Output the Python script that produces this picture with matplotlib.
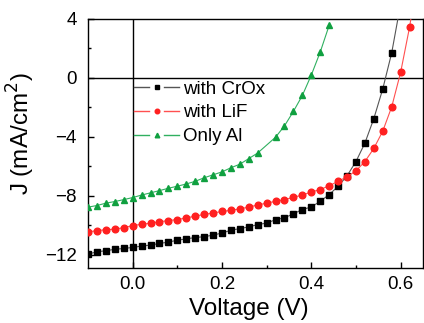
import numpy as np
import matplotlib
matplotlib.use("Agg")
import matplotlib.pyplot as plt
from matplotlib.lines import Line2D
from matplotlib.legend_handler import HandlerTuple

plt.rcParams['font.family'] = ['Liberation Sans', 'DejaVu Sans']

# --- data ---
v_crox = np.round(np.arange(-0.10, 0.601, 0.02), 2)
j_crox = [-11.95, -11.80, -11.72, -11.63, -11.57, -11.50, -11.41, -11.34, -11.23,
          -11.14, -11.01, -10.92, -10.83, -10.77, -10.67, -10.52, -10.34, -10.22,
          -10.11, -9.95, -9.85, -9.62, -9.49, -9.22, -8.93, -8.76, -8.37, -7.92,
          -7.36, -6.65, -5.68, -4.43, -2.77, -0.76, 1.68, 5.0]

v_lif = np.round(np.arange(-0.10, 0.641, 0.02), 2)
j_lif = [-10.45, -10.36, -10.30, -10.26, -10.16, -10.02, -9.93, -9.86, -9.76,
         -9.68, -9.61, -9.50, -9.38, -9.26, -9.17, -9.06, -8.99, -8.88, -8.77,
         -8.62, -8.50, -8.37, -8.26, -8.10, -7.95, -7.74, -7.58, -7.32, -7.02,
         -6.71, -6.31, -5.68, -4.79, -3.62, -1.98, 0.36, 3.42, 7.2]

v_al = [-0.10, -0.08, -0.06, -0.04, -0.02, 0.00, 0.02, 0.04, 0.06, 0.08, 0.10,
        0.12, 0.14, 0.16, 0.18, 0.20, 0.22, 0.24, 0.26, 0.28, 0.32, 0.34, 0.36,
        0.38, 0.40, 0.42, 0.44]
j_al = [-8.77, -8.66, -8.50, -8.39, -8.26, -8.12, -7.95, -7.80, -7.65, -7.49,
        -7.35, -7.20, -7.02, -6.78, -6.58, -6.38, -6.10, -5.86, -5.48, -5.10,
        -4.03, -3.26, -2.28, -1.20, 0.18, 1.74, 3.55]

labels = ['with CrOx', 'with LiF', 'Only Al']
line_colors = ['#555555', '#ff5050', '#30b060']
face_colors = ['black', '#ff2020', '#10a040']
markers = ['s', 'o', '^']

fig = plt.figure(figsize=(4.24, 3.23), dpi=100)
ax = fig.add_axes([0.2075, 0.170, 0.790, 0.772])

ax.axhline(0, color='black', lw=1.0, zorder=1)
ax.axvline(0, color='black', lw=1.0, zorder=1)

sizes = [4.3, 4.8, 5.0]
for (v, j), lc, fc, mk, ms in zip([(v_crox, j_crox), (v_lif, j_lif), (v_al, j_al)],
                                  line_colors, face_colors, markers, sizes):
    ax.plot(v, j, color=lc, lw=0.8, marker=mk, ms=ms, mfc=fc, mec=fc, zorder=3)

# legend handles: line | marker | line, like the Origin style
handles = []
for lc, fc, mk in zip(line_colors, face_colors, markers):
    seg = Line2D([], [], color=lc, lw=1.0)
    dot = Line2D([], [], ls='none', marker=mk, ms=3.3, mfc=fc, mec=fc)
    handles.append((seg, dot, seg))
ax.legend(handles, labels, loc='upper left',
          handler_map={tuple: HandlerTuple(ndivide=None, pad=0.0)},
          bbox_to_anchor=(0.11, 0.79), frameon=False, fontsize=13.5,
          handlelength=2.4, handletextpad=0.2, labelspacing=0.36, borderpad=0.0)

ax.set_xlim(-0.1, 0.65)
ax.set_ylim(-12.9, 3.85)
ax.set_xticks([0.0, 0.2, 0.4, 0.6])
ax.set_xticklabels(['0.0', '0.2', '0.4', '0.6'])
ax.set_xticks([0.1, 0.3, 0.5], minor=True)
ax.set_yticks([4, 0, -4, -8, -12])
ax.set_yticks([2, -2, -6, -10], minor=True)
ax.tick_params(which='both', direction='in', labelsize=13.5)
ax.tick_params(axis='x', which='both', pad=6)
ax.tick_params(axis='y', which='both', pad=8)
ax.tick_params(which='major', length=4, width=1)
ax.tick_params(which='minor', length=2.5, width=1)
for s in ax.spines.values():
    s.set_linewidth(1.0)

ax.set_xlabel('Voltage (V)', fontsize=17.5)
ax.set_ylabel('J (mA/cm$^2$)', fontsize=17.5)
ax.xaxis.set_label_coords(0.48, -0.118)
ax.yaxis.set_label_coords(-0.152, 0.54)

fig.savefig('out.png', dpi=100)
